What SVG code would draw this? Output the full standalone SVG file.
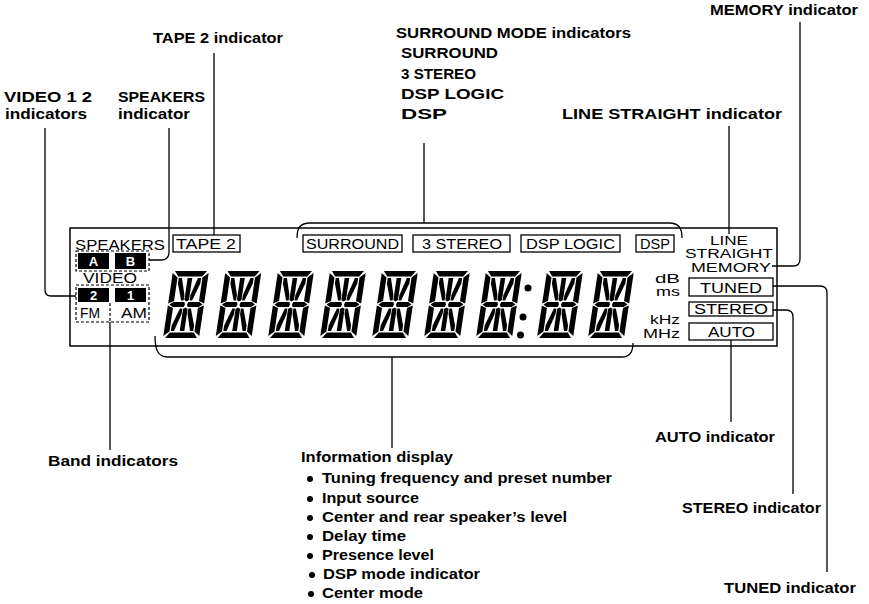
<svg xmlns="http://www.w3.org/2000/svg" xmlns:xlink="http://www.w3.org/1999/xlink" width="869" height="604" viewBox="0 0 869 604">
<style>
.lbl{font-family:"Liberation Sans",Arial,sans-serif;font-weight:bold;font-size:15px;fill:#000}
.info{font-family:"Liberation Sans",Arial,sans-serif;font-weight:bold;font-size:14px;fill:#000}
.disp{font-family:"Liberation Sans",Arial,sans-serif;font-size:14px;fill:#000}
.sm{font-size:12.5px}
.inv{font-family:"Liberation Sans",Arial,sans-serif;font-weight:bold;font-size:13px;fill:#fff}
.box{fill:none;stroke:#000;stroke-width:1.3}
.dash{fill:none;stroke:#000;stroke-width:1.2;stroke-dasharray:3 2}
.line{fill:none;stroke:#000;stroke-width:1.3}
.frame{fill:none;stroke:#000;stroke-width:1.5}
</style>
<defs>
<g id="seg14" fill="#000">
<polygon points="2,0 34,0 30,5.5 6,5.5"/>
<polygon points="2,67 34,67 30,61.5 6,61.5"/>
<polygon points="0,2 5.5,6.5 5.5,30 0,32.5"/>
<polygon points="0,34.5 5.5,37 5.5,60.5 0,65"/>
<polygon points="36,2 30.5,6.5 30.5,30 36,32.5"/>
<polygon points="36,34.5 30.5,37 30.5,60.5 36,65"/>
<polygon points="1.5,33.5 5,31 16,31 17,33.5 16,36 5,36"/>
<polygon points="34.5,33.5 31,31 20,31 19,33.5 20,36 31,36"/>
<polygon points="15.7,7 20.3,7 20.3,29 18,30.5 15.7,29"/>
<polygon points="15.7,38 18,36.5 20.3,38 20.3,60 15.7,60"/>
<polygon points="6.8,7 10,7 15,24 15,29.5 12.5,29.5 6.8,12.5"/>
<polygon points="29.2,7 26,7 21,24 21,29.5 23.5,29.5 29.2,12.5"/>
<polygon points="15,37.5 12.5,37.5 6.8,54.5 6.8,60 10,60 15,43"/>
<polygon points="21,37.5 23.5,37.5 29.2,54.5 29.2,60 26,60 21,43"/>
</g>
</defs>
<rect width="869" height="604" fill="#fff"/>

<g id="display-frame">
<rect class="frame" x="70" y="228" width="707" height="118"/>
</g>

<g id="speakers-indicator">
<text class="disp" x="75" y="250" font-size="15" textLength="90" lengthAdjust="spacingAndGlyphs">SPEAKERS</text>
<rect class="dash" x="76" y="251" width="73" height="20"/>
<rect x="78" y="253" width="31" height="16" fill="#000"/>
<rect x="115" y="253" width="31" height="16" fill="#000"/>
<text class="inv" x="93.5" y="266" text-anchor="middle">A</text>
<text class="inv" x="130.5" y="266" text-anchor="middle">B</text>
</g>

<g id="video-indicators">
<text class="disp" x="83" y="283" font-size="13" textLength="54" lengthAdjust="spacingAndGlyphs">VIDEO</text>
<rect class="dash" x="76" y="285" width="73" height="37"/>
<rect x="78" y="288" width="31" height="14" fill="#000"/>
<rect x="115" y="288" width="31" height="14" fill="#000"/>
<text class="inv" x="93.5" y="300" text-anchor="middle">2</text>
<text class="inv" x="130.5" y="300" text-anchor="middle">1</text>
</g>

<g id="band-indicators">
<text class="disp" x="80" y="318" font-size="13" textLength="20" lengthAdjust="spacingAndGlyphs">FM</text>
<text class="disp" x="121" y="318" font-size="13" textLength="26" lengthAdjust="spacingAndGlyphs">AM</text>
<line class="dash" x1="110" y1="303" x2="110" y2="322"/>
</g>

<g id="tape2-indicator">
<rect class="box" x="173" y="235" width="67" height="17"/>
<text class="disp" x="176" y="249" textLength="60" lengthAdjust="spacingAndGlyphs">TAPE 2</text>
</g>

<g id="surround-mode-indicators">
<rect class="box" x="303" y="235" width="99" height="17"/>
<text class="disp" x="306" y="249" textLength="93" lengthAdjust="spacingAndGlyphs">SURROUND</text>
<rect class="box" x="413" y="235" width="97" height="17"/>
<text class="disp" x="422" y="249" textLength="80" lengthAdjust="spacingAndGlyphs">3 STEREO</text>
<rect class="box" x="521" y="235" width="99" height="17"/>
<text class="disp" x="526" y="249" textLength="89" lengthAdjust="spacingAndGlyphs">DSP LOGIC</text>
<rect class="box" x="636" y="235" width="38" height="17"/>
<text class="disp" x="640" y="249" textLength="30" lengthAdjust="spacingAndGlyphs">DSP</text>
</g>

<g id="line-straight-memory">
<text class="disp sm" x="710" y="245" textLength="38" lengthAdjust="spacingAndGlyphs">LINE</text>
<text class="disp sm" x="685" y="258" textLength="88" lengthAdjust="spacingAndGlyphs">STRAIGHT</text>
<text class="disp sm" x="691" y="272" textLength="80" lengthAdjust="spacingAndGlyphs">MEMORY</text>
</g>

<g id="units">
<text class="disp sm" x="655" y="283" textLength="25" lengthAdjust="spacingAndGlyphs">dB</text>
<text class="disp sm" x="656" y="296" textLength="24" lengthAdjust="spacingAndGlyphs">ms</text>
<text class="disp sm" x="650" y="324" textLength="30" lengthAdjust="spacingAndGlyphs">kHz</text>
<text class="disp sm" x="643" y="338" textLength="37" lengthAdjust="spacingAndGlyphs">MHz</text>
</g>

<g id="tuned-stereo-auto">
<rect class="box" x="689" y="278" width="84" height="18"/>
<text class="disp" x="700" y="293" textLength="62" lengthAdjust="spacingAndGlyphs">TUNED</text>
<rect class="box" x="689" y="302" width="84" height="14"/>
<text class="disp" x="694" y="314" font-size="12" textLength="74" lengthAdjust="spacingAndGlyphs">STEREO</text>
<rect class="box" x="689" y="323" width="84" height="17"/>
<text class="disp" x="708" y="337" textLength="47" lengthAdjust="spacingAndGlyphs">AUTO</text>
</g>

<g id="information-display">
<use xlink:href="#seg14" transform="translate(173,271) skewX(-8.5)"/>
<use xlink:href="#seg14" transform="translate(225.5,271) skewX(-8.5)"/>
<use xlink:href="#seg14" transform="translate(278,271) skewX(-8.5)"/>
<use xlink:href="#seg14" transform="translate(330,271) skewX(-8.5)"/>
<use xlink:href="#seg14" transform="translate(382,271) skewX(-8.5)"/>
<use xlink:href="#seg14" transform="translate(434,271) skewX(-8.5)"/>
<use xlink:href="#seg14" transform="translate(486,271) skewX(-8.5)"/>
<use xlink:href="#seg14" transform="translate(547,271) skewX(-8.5)"/>
<use xlink:href="#seg14" transform="translate(598,271) skewX(-8.5)"/>
<circle cx="528" cy="288" r="3.5"/>
<circle cx="523" cy="317" r="3.5"/>
<circle cx="520.5" cy="335" r="3.5"/>
</g>

<g id="connectors">
<path class="line" d="M297,238 C297,228 300,223 310,223 H669 C679,223 682,228 682,238"/>
<path class="line" d="M155,336 C155,350 158,357 168,357 H622 C630,357 633,351 633,343"/>
<line class="line" x1="424" y1="143" x2="424" y2="223"/>
<line class="line" x1="392" y1="357" x2="392" y2="448"/>
<line class="line" x1="214" y1="53" x2="214" y2="235"/>
<path class="line" d="M169,128 V252 Q169,260 161,260 H149"/>
<path class="line" d="M45,128 V290 Q45,296 51,296 H76"/>
<line class="line" x1="110" y1="322" x2="110" y2="450"/>
<line class="line" x1="729" y1="126" x2="729" y2="234"/>
<path class="line" d="M772,266 H793 Q800,266 800,259 V22"/>
<path class="line" d="M773,286 H820 Q827,286 827,293 V572"/>
<path class="line" d="M773,310 H786 Q793,310 793,317 V494"/>
<line class="line" x1="731" y1="340" x2="731" y2="422"/>
</g>

<g id="label-memory"><text class="lbl" x="710" y="15" textLength="148" lengthAdjust="spacingAndGlyphs">MEMORY indicator</text></g>
<g id="label-surround-mode">
<text class="lbl" x="396" y="38" textLength="235" lengthAdjust="spacingAndGlyphs">SURROUND MODE indicators</text>
<text class="lbl" x="401" y="58" textLength="97" lengthAdjust="spacingAndGlyphs">SURROUND</text>
<text class="lbl" x="401" y="79" textLength="75" lengthAdjust="spacingAndGlyphs">3 STEREO</text>
<text class="lbl" x="401" y="99" textLength="103" lengthAdjust="spacingAndGlyphs">DSP LOGIC</text>
<text class="lbl" x="401" y="119" textLength="46" lengthAdjust="spacingAndGlyphs">DSP</text>
</g>
<g id="label-tape2"><text class="lbl" x="153" y="43" textLength="130" lengthAdjust="spacingAndGlyphs">TAPE 2 indicator</text></g>
<g id="label-video">
<text class="lbl" x="4" y="102" textLength="88" lengthAdjust="spacingAndGlyphs">VIDEO 1 2</text>
<text class="lbl" x="5" y="119" textLength="82" lengthAdjust="spacingAndGlyphs">indicators</text>
</g>
<g id="label-speakers">
<text class="lbl" x="118" y="102" textLength="87" lengthAdjust="spacingAndGlyphs">SPEAKERS</text>
<text class="lbl" x="118" y="119" textLength="72" lengthAdjust="spacingAndGlyphs">indicator</text>
</g>
<g id="label-line-straight"><text class="lbl" x="562" y="119" textLength="220" lengthAdjust="spacingAndGlyphs">LINE STRAIGHT indicator</text></g>
<g id="label-band"><text class="info" x="48" y="466" textLength="130" lengthAdjust="spacingAndGlyphs">Band indicators</text></g>
<g id="label-information">
<text class="info" x="301" y="462" textLength="152" lengthAdjust="spacingAndGlyphs">Information display</text>
<circle cx="310" cy="479" r="3"/>
<text class="info" x="322" y="483" textLength="290" lengthAdjust="spacingAndGlyphs">Tuning frequency and preset number</text>
<circle cx="310" cy="499" r="3"/>
<text class="info" x="322" y="503" textLength="97" lengthAdjust="spacingAndGlyphs">Input source</text>
<circle cx="310" cy="518" r="3"/>
<text class="info" x="322" y="522" textLength="245" lengthAdjust="spacingAndGlyphs">Center and rear speaker’s level</text>
<circle cx="310" cy="537" r="3"/>
<text class="info" x="322" y="541" textLength="84" lengthAdjust="spacingAndGlyphs">Delay time</text>
<circle cx="310" cy="556" r="3"/>
<text class="info" x="322" y="560" textLength="112" lengthAdjust="spacingAndGlyphs">Presence level</text>
<circle cx="312" cy="575" r="3"/>
<text class="info" x="323" y="579" textLength="157" lengthAdjust="spacingAndGlyphs">DSP mode indicator</text>
<circle cx="311" cy="594" r="3"/>
<text class="info" x="322" y="598" textLength="101" lengthAdjust="spacingAndGlyphs">Center mode</text>
</g>
<g id="label-auto"><text class="lbl" x="655" y="442" textLength="120" lengthAdjust="spacingAndGlyphs">AUTO indicator</text></g>
<g id="label-stereo"><text class="lbl" x="682" y="513" textLength="139" lengthAdjust="spacingAndGlyphs">STEREO indicator</text></g>
<g id="label-tuned"><text class="lbl" x="724" y="593" textLength="132" lengthAdjust="spacingAndGlyphs">TUNED indicator</text></g>
</svg>
